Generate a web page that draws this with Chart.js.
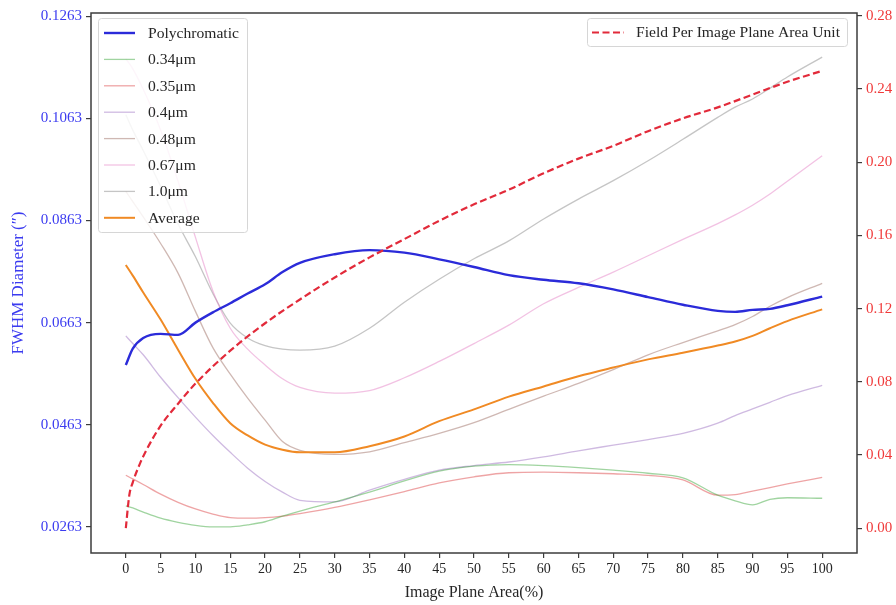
<!DOCTYPE html>
<html><head><meta charset="utf-8">
<script src="https://cdn.jsdelivr.net/npm/chart.js@4.4.0/dist/chart.umd.min.js"></script>
<style>html,body{margin:0;padding:0;background:#fff;}#wrap{width:896px;height:605px;}</style>
</head><body><div id="wrap"><canvas id="c" width="896" height="605"></canvas></div>
<script>
// ---------------- data ----------------
const xValues = [0,1,2.5,5,7.5,10,12.5,15,17.5,20,22.5,25,30,35,40,45,50,55,60,65,70,75,80,85,87.5,90,92.5,95,100];
const polychromatic = [0.0580,0.0612,0.0633,0.0641,0.0639,0.0663,0.0683,0.0701,0.0720,0.0738,0.0762,0.0780,0.0797,0.0805,0.0800,0.0787,0.0772,0.0756,0.0747,0.0740,0.0728,0.0713,0.0698,0.0686,0.0684,0.0688,0.0690,0.0697,0.0714];
const um034 = [0.0304,0.0300,0.0292,0.0280,0.0272,0.0266,0.0263,0.0263,0.0267,0.0273,0.0284,0.0294,0.0312,0.0331,0.0353,0.0372,0.0382,0.0385,0.0383,0.0379,0.0374,0.0368,0.0359,0.0325,0.0314,0.0306,0.0317,0.0320,0.0319];
const um035 = [0.0364,0.0357,0.0346,0.0327,0.0311,0.0298,0.0288,0.0281,0.0280,0.0281,0.0284,0.0289,0.0301,0.0316,0.0332,0.0349,0.0361,0.0369,0.0370,0.0369,0.0367,0.0364,0.0355,0.0325,0.0326,0.0333,0.0340,0.0347,0.0360];
const um040 = [0.0637,0.0622,0.0600,0.0556,0.0516,0.0478,0.0442,0.0409,0.0378,0.0352,0.0331,0.0315,0.0312,0.0335,0.0356,0.0374,0.0383,0.0390,0.0400,0.0412,0.0423,0.0434,0.0446,0.0466,0.0481,0.0494,0.0507,0.0520,0.0540];
const um048 = [0.0920,0.0900,0.0870,0.0818,0.0760,0.0685,0.0614,0.0562,0.0515,0.0472,0.0430,0.0413,0.0405,0.0410,0.0428,0.0446,0.0467,0.0493,0.0519,0.0544,0.0571,0.0600,0.0624,0.0647,0.0659,0.0675,0.0695,0.0712,0.0740];
const um067 = [0.1180,0.1160,0.1120,0.1040,0.0940,0.0830,0.0725,0.0652,0.0611,0.0580,0.0553,0.0536,0.0525,0.0530,0.0555,0.0587,0.0622,0.0658,0.0700,0.0732,0.0762,0.0794,0.0826,0.0857,0.0874,0.0893,0.0915,0.0940,0.0990];
const um100 = [0.1070,0.1040,0.1000,0.0930,0.0856,0.0792,0.0720,0.0662,0.0633,0.0618,0.0611,0.0609,0.0617,0.0652,0.0703,0.0748,0.0788,0.0823,0.0866,0.0905,0.0941,0.0980,0.1022,0.1065,0.1085,0.1101,0.1122,0.1144,0.1183];
const average = [0.0776,0.0755,0.0722,0.0669,0.0610,0.0553,0.0506,0.0466,0.0442,0.0424,0.0414,0.0409,0.0409,0.0421,0.0440,0.0470,0.0493,0.0518,0.0538,0.0558,0.0575,0.0591,0.0604,0.0618,0.0626,0.0637,0.0652,0.0666,0.0689];
const fieldX = [0,0.5,1,2,3,5,7.5,10,15,20,25,30,35,40,45,50,55,60,65,70,75,80,85,90,95,100];
const fieldValues = [0,0.018,0.025,0.035,0.043,0.056,0.068,0.079,0.097,0.112,0.125,0.137,0.148,0.158,0.168,0.177,0.185,0.194,0.202,0.209,0.217,0.224,0.230,0.237,0.244,0.250];

const xTicks = [0,5,10,15,20,25,30,35,40,45,50,55,60,65,70,75,80,85,90,95,100];
const leftTicks = [0.0263,0.0463,0.0663,0.0863,0.1063,0.1263];
const rightTicks = [0,0.04,0.08,0.12,0.16,0.20,0.24,0.28];
const seriesLabels = ['Polychromatic','0.34μm','0.35μm','0.4μm','0.48μm','0.67μm','1.0μm','Average'];
const fieldLabel = 'Field Per Image Plane Area Unit';

// ---------------- styling ----------------
const FONT = "'Liberation Serif','Times New Roman',serif";
const pts = (xs, ys) => xs.map((x, i) => ({x: x, y: ys[i]}));
const thin = (label, ys, color) => ({label, data: pts(xValues, ys), yAxisID: 'y', borderColor: color, borderWidth: 1.3});

const datasets = [
  {label: fieldLabel, data: pts(fieldX, fieldValues), yAxisID: 'y1', borderColor: '#e22a3a', borderWidth: 2.2, borderDash: [7, 3.5]},
  {label: seriesLabels[0], data: pts(xValues, polychromatic), yAxisID: 'y', borderColor: '#2b2bd9', borderWidth: 2.4},
  {label: seriesLabels[7], data: pts(xValues, average), yAxisID: 'y', borderColor: '#f08a24', borderWidth: 2.0},
  thin(seriesLabels[1], um034, 'rgba(44,160,44,0.45)'),
  thin(seriesLabels[2], um035, 'rgba(214,39,40,0.42)'),
  thin(seriesLabels[3], um040, 'rgba(148,103,189,0.45)'),
  thin(seriesLabels[4], um048, 'rgba(140,86,75,0.42)'),
  thin(seriesLabels[5], um067, 'rgba(227,119,194,0.45)'),
  thin(seriesLabels[6], um100, 'rgba(127,127,127,0.45)')
];
datasets.forEach(d => { d.clip = 0; });

function roundBox(ctx, x, y, w, h, r) {
  ctx.beginPath();
  ctx.moveTo(x + r, y);
  ctx.arcTo(x + w, y, x + w, y + h, r);
  ctx.arcTo(x + w, y + h, x, y + h, r);
  ctx.arcTo(x, y + h, x, y, r);
  ctx.arcTo(x, y, x + w, y, r);
  ctx.closePath();
}

const framePlugin = {
  id: 'frame',
  afterDatasetsDraw(chart) {
    const {ctx, chartArea: a} = chart;
    ctx.save();
    ctx.strokeStyle = '#3c3c3c';
    ctx.lineWidth = 1.5;
    ctx.strokeRect(a.left, a.top, a.right - a.left, a.bottom - a.top);
    ctx.restore();
  },
  afterDraw(chart) {
    const ctx = chart.ctx;
    const ds = chart.data.datasets;
    const byLabel = l => ds.find(d => d.label === l);
    ctx.save();
    ctx.font = '15.6px ' + FONT;
    ctx.textBaseline = 'middle';
    ctx.textAlign = 'left';
    // left legend
    roundBox(ctx, 98.5, 18.5, 149, 214, 3);
    ctx.fillStyle = 'rgba(255,255,255,0.84)';
    ctx.fill();
    ctx.strokeStyle = '#d6d6d6';
    ctx.lineWidth = 1;
    ctx.stroke();
    seriesLabels.forEach((lab, i) => {
      const d = byLabel(lab);
      const y = 33 + i * 26.4;
      ctx.beginPath();
      ctx.setLineDash([]);
      ctx.strokeStyle = d.borderColor;
      ctx.lineWidth = d.borderWidth;
      ctx.moveTo(104, y); ctx.lineTo(135, y);
      ctx.stroke();
      ctx.fillStyle = '#262626';
      ctx.fillText(lab, 148, y + 1);
    });
    // right legend
    roundBox(ctx, 587.5, 18.5, 260, 28, 3);
    ctx.fillStyle = 'rgba(255,255,255,0.84)';
    ctx.fill();
    ctx.strokeStyle = '#d6d6d6';
    ctx.lineWidth = 1;
    ctx.stroke();
    const f = byLabel(fieldLabel);
    ctx.beginPath();
    ctx.setLineDash(f.borderDash);
    ctx.strokeStyle = f.borderColor;
    ctx.lineWidth = f.borderWidth;
    ctx.moveTo(592, 32.5); ctx.lineTo(624, 32.5);
    ctx.stroke();
    ctx.setLineDash([]);
    ctx.fillStyle = '#262626';
    ctx.fillText(fieldLabel, 636, 33);
    ctx.restore();
  }
};

const tickGrid = {drawOnChartArea: false, drawTicks: true, tickLength: 5, color: '#3c3c3c', lineWidth: 1.2};

new Chart(document.getElementById('c').getContext('2d'), {
  type: 'line',
  data: {datasets},
  options: {
    responsive: false,
    animation: false,
    devicePixelRatio: 1,
    elements: {point: {radius: 0}, line: {cubicInterpolationMode: 'monotone'}},
    plugins: {legend: {display: false}, tooltip: {enabled: false}},
    layout: {padding: {top: 10, left: 0, right: 0, bottom: 0}},
    scales: {
      x: {
        type: 'linear', min: -5, max: 105,
        afterBuildTicks: s => { s.ticks = xTicks.map(v => ({value: v})); },
        afterFit: s => { s.height = 52; },
        ticks: {font: {family: FONT, size: 14}, color: '#262626', padding: 3, maxRotation: 0, autoSkip: false, callback: v => String(v)},
        grid: tickGrid,
        border: {display: false},
        title: {display: true, text: 'Image Plane Area(%)', font: {family: FONT, size: 16}, color: '#262626', padding: {top: 0, bottom: 3}}
      },
      y: {
        type: 'linear', position: 'left', min: 0.02118, max: 0.12694,
        afterBuildTicks: s => { s.ticks = leftTicks.map(v => ({value: v})); },
        afterFit: s => { s.width = 91; },
        ticks: {font: {family: FONT, size: 15}, color: '#3b3bf0', padding: 4, callback: v => Number(v).toFixed(4)},
        grid: tickGrid,
        border: {display: false},
        title: {display: true, text: 'FWHM Diameter (″)', font: {family: FONT, size: 17}, color: '#3b3bf0', padding: {top: 8, bottom: 0}}
      },
      y1: {
        type: 'linear', position: 'right', min: -0.0136, max: 0.2816,
        afterBuildTicks: s => { s.ticks = rightTicks.map(v => ({value: v})); },
        afterFit: s => { s.width = 39; },
        ticks: {font: {family: FONT, size: 15}, color: '#f03a3a', padding: 4, callback: v => Number(v).toFixed(2)},
        grid: tickGrid,
        border: {display: false}
      }
    }
  },
  plugins: [framePlugin]
});
</script>
</body></html>
